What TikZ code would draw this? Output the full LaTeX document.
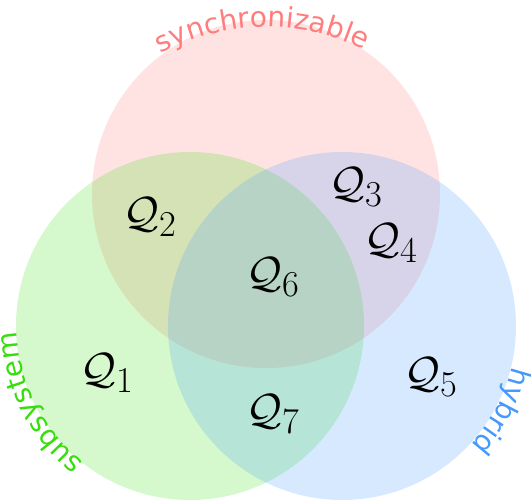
\documentclass[tikz,border=0pt]{standalone}
\usepackage{amsmath}
\usepackage{fontspec}
\usepackage{tikz}
\usetikzlibrary{decorations.text}
\newfontfamily\labelfont{DejaVu Sans}

\definecolor{synccol}{RGB}{255,125,125}
\definecolor{subcol}{RGB}{55,222,12}
\definecolor{hybcol}{RGB}{68,153,255}

\tikzset{
  region/.style={fill opacity=0.21, draw=none},
  qlabel/.style={font=\fontsize{30}{36}\selectfont, inner sep=0pt},
}

\begin{document}
\begin{tikzpicture}[x=0.02cm, y=0.02cm]
  \useasboundingbox (0,0) rectangle (531,502);

  % Define circle centres
  \coordinate (S) at (266,308);
  \coordinate (U) at (190,176);
  \coordinate (H) at (342,176);
  \coordinate (T) at (266,252);

  % Fill the three sets
  \fill[region, synccol] (S) circle[radius=174];
  \fill[region, subcol] (U) circle[radius=174];
  \fill[region, hybcol] (H) circle[radius=174];

  % Set names along the circles
  \path[decorate, decoration={text along path, text align=center,
      text={|\labelfont\fontsize{16}{19}\selectfont\color{synccol}|synchronizable}}]
    (T) ++(151:223) arc[start angle=151, end angle=31, radius=223];
  \path[decorate, decoration={text along path, text align=center,
      text={|\labelfont\fontsize{16}{19}\selectfont\color{subcol}|subsystem}}]
    (U) ++(252:173) arc[start angle=252, end angle=162, radius=173];
  \path[decorate, decoration={text along path, text align=center,
      text={|\labelfont\fontsize{16}{19}\selectfont\color{hybcol}|hybrid}}]
    (H) ++(17:175) arc[start angle=17, end angle=-73, radius=175];

  % Label the regions
  \node[qlabel] (q1) at (107,129) {$\mathcal{Q}_1$};
  \node[qlabel] (q2) at (150,285) {$\mathcal{Q}_2$};
  \node[qlabel] (q3) at (356,315) {$\mathcal{Q}_3$};
  \node[qlabel] (q4) at (391,259) {$\mathcal{Q}_4$};
  \node[qlabel] (q5) at (431,125) {$\mathcal{Q}_5$};
  \node[qlabel] (q6) at (273,225) {$\mathcal{Q}_6$};
  \node[qlabel] (q7) at (273,88) {$\mathcal{Q}_7$};
\end{tikzpicture}
\end{document}
